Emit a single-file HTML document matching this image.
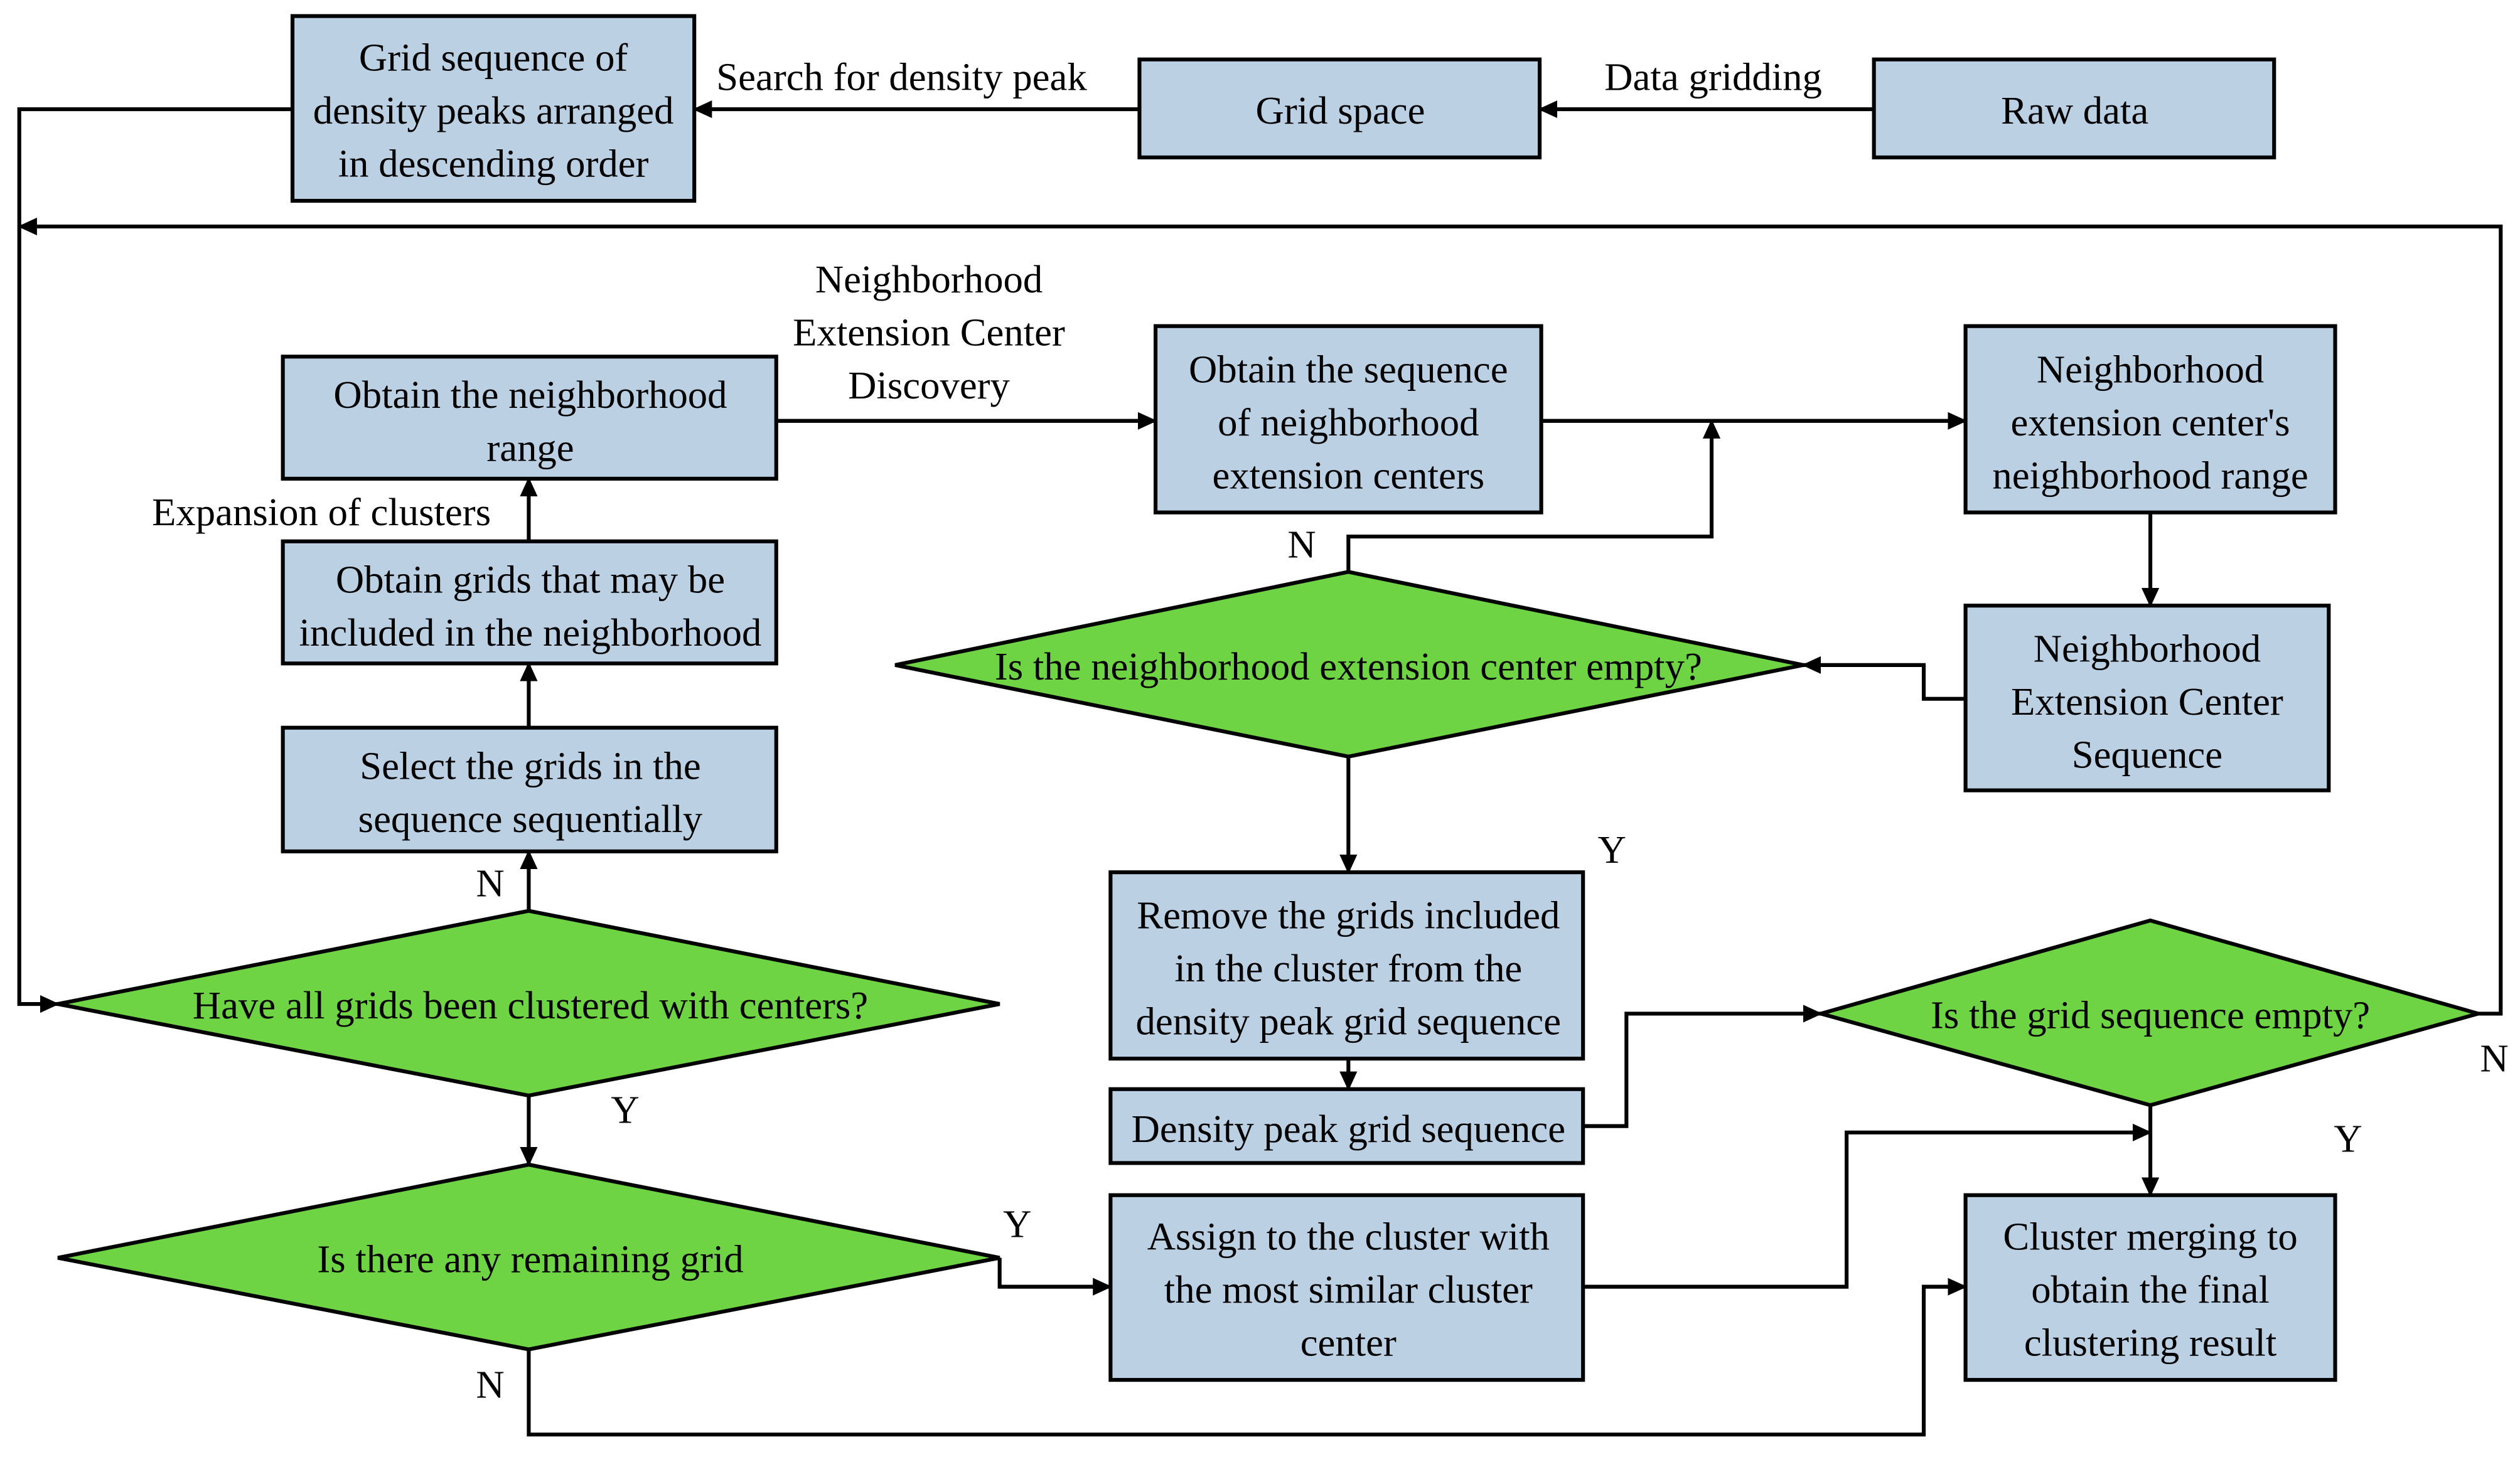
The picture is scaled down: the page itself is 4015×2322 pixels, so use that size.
<!DOCTYPE html>
<html><head><meta charset="utf-8"><style>html,body{margin:0;padding:0;background:#fff}svg{display:block}</style></head><body>
<svg width="4015" height="2322" viewBox="0 0 1568 907" preserveAspectRatio="none" xmlns="http://www.w3.org/2000/svg">
<defs><marker id="a" markerWidth="12" markerHeight="12" refX="11" refY="5.5" orient="auto" markerUnits="userSpaceOnUse"><path d="M0,0 L12,5.5 L0,11 Z" fill="#000"/></marker></defs>
<g fill="#bcd0e4" stroke="#000" stroke-width="2.4">
<rect x="182" y="10" width="250" height="115"/>
<rect x="709" y="37" width="249" height="61"/>
<rect x="1166" y="37" width="249" height="61"/>
<rect x="176" y="222" width="307" height="76"/>
<rect x="176" y="337" width="307" height="76"/>
<rect x="176" y="453" width="307" height="77"/>
<rect x="719" y="203" width="240" height="116"/>
<rect x="1223" y="203" width="230" height="116"/>
<rect x="1223" y="377" width="226" height="115"/>
<rect x="691" y="543" width="294" height="116"/>
<rect x="691" y="678" width="294" height="46"/>
<rect x="691" y="744" width="294" height="115"/>
<rect x="1223" y="744" width="230" height="115"/>
</g>
<g fill="#6fd444" stroke="#000" stroke-width="2.4">
<polygon points="557,414 839,356 1122,414 839,471"/>
<polygon points="36,625 329,567 622,625 329,682"/>
<polygon points="36,783 329,725 622,783 329,840"/>
<polygon points="1133,631 1338,573 1542,631 1338,688"/>
</g>
<g fill="none" stroke="#000" stroke-width="2.4" marker-end="url(#a)">
<path d="M1166,68 H958"/>
<path d="M709,68 H432"/>
<path d="M182,68 H12 V625 H36"/>
<path d="M1542,631 H1556 V141 H12"/>
<path d="M329,567 V530"/>
<path d="M329,453 V413"/>
<path d="M329,337 V298"/>
<path d="M483,262 H719"/>
<path d="M959,262 H1223"/>
<path d="M839,356 V334 H1065 V262"/>
<path d="M1338,319 V377"/>
<path d="M1223,435 H1197 V414 H1122"/>
<path d="M839,471 V543"/>
<path d="M839,659 V678"/>
<path d="M985,701 H1012 V631 H1133"/>
<path d="M1338,688 V744"/>
<path d="M985,801 H1149 V705 H1338"/>
<path d="M329,682 V725"/>
<path d="M622,783 V801 H691"/>
<path d="M329,840 V893 H1197 V801 H1223"/>
</g>
<g font-family="Liberation Serif, serif" font-size="24.5" text-anchor="middle" fill="#000">
<text x="307" y="44">Grid sequence of</text><text x="307" y="77">density peaks arranged</text><text x="307" y="110">in descending order</text>
<text x="834" y="77">Grid space</text>
<text x="1291" y="77">Raw data</text>
<text x="1066" y="56">Data gridding</text>
<text x="561" y="56">Search for density peak</text>
<text x="330" y="254">Obtain the neighborhood</text><text x="330" y="287">range</text>
<text x="330" y="369">Obtain grids that may be</text><text x="330" y="402">included in the neighborhood</text>
<text x="330" y="485">Select the grids in the</text><text x="330" y="518">sequence sequentially</text>
<text x="200" y="327">Expansion of clusters</text>
<text x="578" y="182">Neighborhood</text><text x="578" y="215">Extension Center</text><text x="578" y="248">Discovery</text>
<text x="839" y="238">Obtain the sequence</text><text x="839" y="271">of neighborhood</text><text x="839" y="304">extension centers</text>
<text x="1338" y="238">Neighborhood</text><text x="1338" y="271">extension center's</text><text x="1338" y="304">neighborhood range</text>
<text x="1336" y="412">Neighborhood</text><text x="1336" y="445">Extension Center</text><text x="1336" y="478">Sequence</text>
<text x="839" y="423">Is the neighborhood extension center empty?</text>
<text x="810" y="347">N</text>
<text x="1003" y="537">Y</text>
<text x="839" y="578">Remove the grids included</text><text x="839" y="611">in the cluster from the</text><text x="839" y="644">density peak grid sequence</text>
<text x="839" y="711">Density peak grid sequence</text>
<text x="1338" y="640">Is the grid sequence empty?</text>
<text x="1552" y="667">N</text>
<text x="1461" y="717">Y</text>
<text x="330" y="634">Have all grids been clustered with centers?</text>
<text x="305" y="558">N</text>
<text x="389" y="699">Y</text>
<text x="330" y="792">Is there any remaining grid</text>
<text x="633" y="770">Y</text>
<text x="305" y="870">N</text>
<text x="839" y="778">Assign to the cluster with</text><text x="839" y="811">the most similar cluster</text><text x="839" y="844">center</text>
<text x="1338" y="778">Cluster merging to</text><text x="1338" y="811">obtain the final</text><text x="1338" y="844">clustering result</text>
</g>
</svg>
</body></html>
